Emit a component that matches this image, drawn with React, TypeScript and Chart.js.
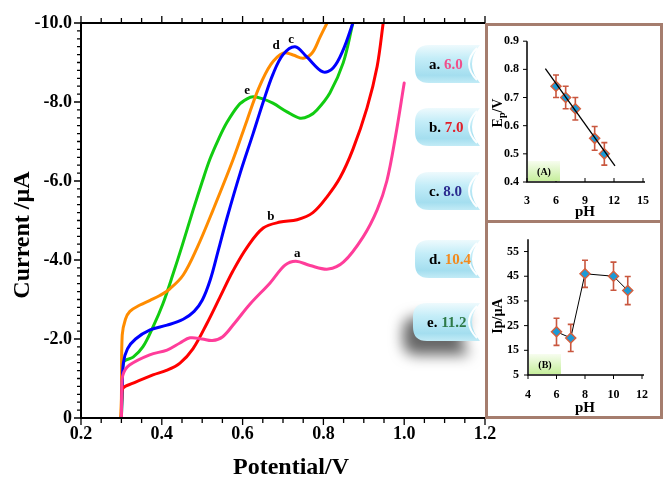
import React, { useEffect, useRef } from 'react';
import { Chart, registerables } from 'chart.js';
Chart.register(...registerables);
Chart.defaults.color = '#000';

const FONT = '"Liberation Serif", "Times New Roman", serif';

// ---------- main cyclic voltammetry curves ----------
const curveNames = ['a', 'b', 'c', 'd', 'e'];
const phLabels = ['6.0', '7.0', '8.0', '10.4', '11.2'];
const curveColors = ['#FF3D9A', '#FF0000', '#0000FF', '#FF8C00', '#11CC11'];
const phTextColors = ['#F0508C', '#E0202A', '#2B2B8F', '#F28A1E', '#2E7A48'];

const potA = [0.300, 0.301, 0.304, 0.320, 0.370, 0.413, 0.445, 0.470, 0.500, 0.525, 0.550, 0.580, 0.618, 0.668, 0.705, 0.732, 0.767, 0.812, 0.850, 0.898, 0.933, 0.957, 0.978, 1.000];
const curA = [0, -0.7, -1.1, -1.34, -1.6, -1.72, -1.9, -2.03, -2.0, -1.96, -2.05, -2.4, -2.88, -3.42, -3.87, -3.97, -3.86, -3.77, -3.95, -4.58, -5.27, -6.0, -7.1, -8.48];

const potB = [0.300, 0.301, 0.304, 0.329, 0.378, 0.413, 0.445, 0.477, 0.512, 0.544, 0.576, 0.611, 0.651, 0.693, 0.735, 0.774, 0.809, 0.841, 0.873, 0.908, 0.933, 0.948];
const curB = [0, -0.5, -0.76, -0.88, -1.09, -1.21, -1.39, -1.75, -2.4, -3.06, -3.72, -4.32, -4.81, -4.96, -5.02, -5.2, -5.6, -6.08, -6.8, -7.85, -8.9, -10.0];

const potC = [0.300, 0.302, 0.305, 0.315, 0.335, 0.371, 0.413, 0.453, 0.480, 0.500, 0.520, 0.540, 0.561, 0.594, 0.626, 0.651, 0.675, 0.700, 0.730, 0.759, 0.799, 0.824, 0.849, 0.873];
const curC = [0, -0.8, -1.4, -1.75, -2.0, -2.23, -2.35, -2.5, -2.7, -2.98, -3.5, -4.25, -5.05, -6.2, -7.2, -8.0, -8.7, -9.2, -9.4, -9.14, -8.76, -8.86, -9.32, -10.0];

const potD = [0.298, 0.300, 0.302, 0.310, 0.321, 0.346, 0.371, 0.395, 0.420, 0.453, 0.487, 0.527, 0.576, 0.611, 0.640, 0.670, 0.700, 0.725, 0.750, 0.772, 0.792, 0.809];
const curD = [0, -0.5, -2.1, -2.5, -2.7, -2.86, -2.98, -3.1, -3.27, -3.62, -4.3, -5.27, -6.53, -7.54, -8.35, -8.95, -9.24, -9.19, -9.11, -9.24, -9.65, -10.0];

const potE = [0.300, 0.302, 0.306, 0.329, 0.353, 0.378, 0.403, 0.428, 0.450, 0.477, 0.500, 0.519, 0.540, 0.561, 0.590, 0.611, 0.626, 0.650, 0.675, 0.710, 0.742, 0.765, 0.784, 0.816, 0.849, 0.873];
const curE = [0, -0.6, -1.42, -1.54, -1.8, -2.3, -2.9, -3.65, -4.35, -5.25, -5.98, -6.55, -7.05, -7.48, -7.92, -8.08, -8.13, -8.08, -7.97, -7.75, -7.59, -7.65, -7.8, -8.23, -8.99, -10.0];

const potentials = [potA, potB, potC, potD, potE];
const currents = [curA, curB, curC, curD, curE];

const peakLabelX = [0.735, 0.67, 0.72, 0.683, 0.611];
const peakLabelY = [-4.15, -5.09, -9.57, -9.42, -8.3];

const xTicksMain = [0.2, 0.4, 0.6, 0.8, 1.0, 1.2];
const yTicksMain = [-10, -8, -6, -4, -2, 0];

// ---------- inset A: Ep vs pH ----------
const phA = [6, 7, 8, 10, 11];
const epA = [0.74, 0.70, 0.66, 0.555, 0.50];
const epErr = [0.04, 0.04, 0.04, 0.042, 0.04];
const fitX = [4.9, 12.1];
const fitY = [0.803, 0.457];
const xTicksA = [3, 6, 9, 12, 15];
const yTicksA = [0.4, 0.5, 0.6, 0.7, 0.8, 0.9];

// ---------- inset B: Ip vs pH ----------
const phB = [6, 7, 8, 10, 11];
const ipB = [22.5, 20, 46, 45, 39.2];
const ipErr = [5.5, 5.5, 5.5, 5.7, 5.7];
const xTicksB = [4, 6, 8, 10, 12];
const yTicksB = [5, 15, 25, 35, 45, 55];

function badgePath(ctx: CanvasRenderingContext2D, x: number, y: number, w: number, h: number) {
  const r = 14;
  ctx.beginPath();
  ctx.moveTo(x + r, y);
  ctx.lineTo(x + w, y);
  ctx.quadraticCurveTo(x + w - 16, y + h / 2, x + w, y + h);
  ctx.lineTo(x + r, y + h);
  ctx.quadraticCurveTo(x, y + h, x, y + h - r);
  ctx.lineTo(x, y + r);
  ctx.quadraticCurveTo(x, y, x + r, y);
  ctx.closePath();
}

const mainDecor = {
  id: 'mainDecor',
  afterDraw(chart: any) {
    const ctx: CanvasRenderingContext2D = chart.ctx;
    const xs = chart.scales.x;
    const ys = chart.scales.y;
    const { left, right, top, bottom } = chart.chartArea;
    ctx.save();
    ctx.strokeStyle = '#000';
    ctx.lineWidth = 2;
    ctx.beginPath();
    ctx.moveTo(right, top);
    ctx.lineTo(left, top);
    ctx.lineTo(left, bottom);
    ctx.lineTo(right, bottom);
    ctx.stroke();
    ctx.lineWidth = 1.3;
    ctx.beginPath();
    for (let i = 0; i <= 50; i++) {
      const py = ys.getPixelForValue(-i * 0.2);
      const len = i % 10 === 0 ? 7 : 4;
      ctx.moveTo(left, py);
      ctx.lineTo(left - len, py);
    }
    for (let i = 0; i <= 20; i++) {
      const px = xs.getPixelForValue(0.2 + i * 0.05);
      const len = i % 4 === 0 ? 7 : 5;
      ctx.moveTo(px, bottom);
      ctx.lineTo(px, bottom + len);
      ctx.moveTo(px, top);
      ctx.lineTo(px, top - len);
    }
    ctx.stroke();

    // curve labels
    ctx.fillStyle = '#000';
    ctx.font = `bold 13px ${FONT}`;
    ctx.textAlign = 'center';
    ctx.textBaseline = 'middle';
    curveNames.forEach((n, i) => {
      ctx.fillText(n, xs.getPixelForValue(peakLabelX[i]), ys.getPixelForValue(peakLabelY[i]));
    });

    // axis titles
    ctx.font = `bold 24px ${FONT}`;
    ctx.fillText('Potential/V', 291, 468);
    ctx.save();
    ctx.translate(23, 235);
    ctx.rotate(-Math.PI / 2);
    ctx.fillText('Current /\u00b5A', 0, 0);
    ctx.restore();

    // pH badges
    const tops = [45, 108, 172, 240, 303];
    curveNames.forEach((n, i) => {
      const x = i === 4 ? 413 : 415;
      const y = tops[i];
      const w = i === 4 ? 67 : 65;
      const h = 38;
      ctx.save();
      if (i === 4) {
        ctx.shadowColor = 'rgba(0,0,0,0.6)';
        ctx.shadowBlur = 14;
        ctx.shadowOffsetX = -10;
        ctx.shadowOffsetY = 14;
      }
      const g = ctx.createLinearGradient(0, y, 0, y + h);
      g.addColorStop(0, '#EEFAFD');
      g.addColorStop(0.35, '#C4EDF8');
      g.addColorStop(0.8, '#A4DEEF');
      g.addColorStop(1, '#C2EBF6');
      badgePath(ctx, x, y, w, h);
      ctx.fillStyle = g;
      ctx.fill();
      ctx.restore();
      ctx.save();
      ctx.strokeStyle = 'rgba(255,255,255,0.95)';
      ctx.lineWidth = 2;
      ctx.beginPath();
      ctx.moveTo(x + w - 3, y + 3);
      ctx.quadraticCurveTo(x + w - 19, y + h / 2, x + w - 3, y + h - 3);
      ctx.stroke();
      ctx.font = `bold 15px ${FONT}`;
      ctx.textAlign = 'left';
      ctx.textBaseline = 'middle';
      const pre = n + '. ';
      const tx = x + 14;
      ctx.fillStyle = '#000';
      ctx.fillText(pre, tx, y + h / 2 + 1);
      const pw = ctx.measureText(pre).width;
      ctx.fillStyle = phTextColors[i];
      ctx.fillText(phLabels[i], tx + pw, y + h / 2 + 1);
      ctx.restore();
    });
    ctx.restore();
  },
};

function makeInsetDecor(o: any) {
  return {
    id: 'insetDecor',
    beforeDatasetsDraw(chart: any) {
      const ctx: CanvasRenderingContext2D = chart.ctx;
      const xs = chart.scales.x;
      const ys = chart.scales.y;
      ctx.save();
      ctx.strokeStyle = '#C9573F';
      ctx.lineWidth = 1.6;
      o.px.forEach((xv: number, i: number) => {
        const px = xs.getPixelForValue(xv);
        const y1 = ys.getPixelForValue(o.py[i] - o.err[i]);
        const y2 = ys.getPixelForValue(o.py[i] + o.err[i]);
        ctx.beginPath();
        ctx.moveTo(px, y1);
        ctx.lineTo(px, y2);
        ctx.moveTo(px - 3, y1);
        ctx.lineTo(px + 3, y1);
        ctx.moveTo(px - 3, y2);
        ctx.lineTo(px + 3, y2);
        ctx.stroke();
      });
      ctx.restore();
    },
    afterDraw(chart: any) {
      const ctx: CanvasRenderingContext2D = chart.ctx;
      const xs = chart.scales.x;
      const ys = chart.scales.y;
      const { left, right, top, bottom } = chart.chartArea;
      ctx.save();
      ctx.strokeStyle = '#000';
      ctx.lineWidth = 1.5;
      ctx.beginPath();
      ctx.moveTo(left, top);
      ctx.lineTo(left, bottom);
      ctx.lineTo(right + 2, bottom);
      ctx.stroke();
      ctx.lineWidth = 1;
      ctx.beginPath();
      o.yTicks.forEach((v: number) => {
        const py = ys.getPixelForValue(v);
        ctx.moveTo(left, py);
        ctx.lineTo(left - 4, py);
      });
      o.xTicks.forEach((v: number) => {
        const px = xs.getPixelForValue(v);
        ctx.moveTo(px, bottom);
        ctx.lineTo(px, bottom + o.xTickDir * 4);
      });
      ctx.stroke();

      // label box
      const bx = left + 1;
      const bh = 20;
      const by = bottom - bh - 1;
      const bw = 32;
      const g = ctx.createLinearGradient(0, by, 0, by + bh);
      g.addColorStop(0, '#F7FDEF');
      g.addColorStop(1, '#C6EE9C');
      ctx.fillStyle = g;
      ctx.fillRect(bx, by, bw, bh);
      ctx.fillStyle = '#000';
      ctx.font = `bold 10px ${FONT}`;
      ctx.textAlign = 'center';
      ctx.textBaseline = 'middle';
      ctx.fillText(o.tag, bx + bw / 2, by + bh / 2 + 1);

      // x title
      ctx.font = `bold 15px ${FONT}`;
      ctx.fillText('pH', (left + right) / 2, bottom + o.pHOffset);

      // y title
      ctx.save();
      ctx.translate(o.yTitleX, o.yTitleY);
      ctx.rotate(-Math.PI / 2);
      ctx.textAlign = 'left';
      const big = `bold 14px ${FONT}`;
      const small = `bold 10px ${FONT}`;
      let total = 0;
      o.yTitle.forEach((p: any) => {
        ctx.font = p.sub ? small : big;
        total += ctx.measureText(p.t).width;
      });
      let cx = -total / 2;
      o.yTitle.forEach((p: any) => {
        ctx.font = p.sub ? small : big;
        ctx.fillText(p.t, cx, p.sub ? 4 : 0);
        cx += ctx.measureText(p.t).width;
      });
      ctx.restore();
      ctx.restore();
    },
  };
}

function tickFont(size: number) {
  return { family: FONT, size, weight: 'bold' as const };
}

export default function App() {
  const mainRef = useRef<HTMLCanvasElement>(null);
  const aRef = useRef<HTMLCanvasElement>(null);
  const bRef = useRef<HTMLCanvasElement>(null);

  useEffect(() => {
    const charts: Chart[] = [];

    charts.push(
      new Chart(mainRef.current!, {
        type: 'line',
        data: {
          datasets: curveNames.map((n, i) => ({
            label: n,
            data: potentials[i].map((x, k) => ({ x, y: currents[i][k] })),
            borderColor: curveColors[i],
            borderWidth: 3,
            pointRadius: 0,
            fill: false,
            tension: 0.35,
            borderJoinStyle: 'round' as const,
            borderCapStyle: 'round' as const,
          })),
        },
        options: {
          responsive: false,
          animation: false,
          layout: { padding: { left: 0, top: 23, right: 179, bottom: 0 } },
          plugins: { legend: { display: false }, tooltip: { enabled: false } },
          scales: {
            x: {
              type: 'linear',
              min: 0.2,
              max: 1.2,
              grid: { display: false, drawTicks: false },
              border: { display: false },
              afterBuildTicks: (s: any) => {
                s.ticks = xTicksMain.map((v) => ({ value: v }));
              },
              afterFit: (s: any) => {
                s.height = 65;
              },
              ticks: {
                padding: 6,
                font: tickFont(18),
                color: '#000',
                maxRotation: 0,
                autoSkip: false,
                callback: (v: any) => Number(v).toFixed(1),
              },
            },
            y: {
              type: 'linear',
              min: -10,
              max: 0,
              reverse: true,
              grid: { display: false, drawTicks: false },
              border: { display: false },
              afterBuildTicks: (s: any) => {
                s.ticks = yTicksMain.map((v) => ({ value: v }));
              },
              afterFit: (s: any) => {
                s.width = 81;
              },
              ticks: {
                padding: 9,
                font: tickFont(18),
                color: '#000',
                autoSkip: false,
                callback: (v: any) => (Number(v) === 0 ? '0' : Number(v).toFixed(1)),
              },
            },
          },
        },
        plugins: [mainDecor],
      })
    );

    const diamond = {
      pointStyle: 'rectRot' as const,
      pointRadius: 5,
      pointBackgroundColor: '#1C9AD6',
      pointBorderColor: '#D4603F',
      pointBorderWidth: 1.5,
    };

    charts.push(
      new Chart(aRef.current!, {
        type: 'line',
        data: {
          datasets: [
            {
              data: fitX.map((x, k) => ({ x, y: fitY[k] })),
              borderColor: '#000',
              borderWidth: 1.3,
              pointRadius: 0,
            },
            {
              data: phA.map((x, k) => ({ x, y: epA[k] })),
              showLine: false,
              ...diamond,
            },
          ],
        },
        options: {
          responsive: false,
          animation: false,
          layout: { padding: { left: 0, top: 9, right: 8, bottom: 0 } },
          plugins: { legend: { display: false }, tooltip: { enabled: false } },
          scales: {
            x: {
              type: 'linear',
              min: 3,
              max: 15,
              grid: { display: false, drawTicks: false },
              border: { display: false },
              afterBuildTicks: (s: any) => {
                s.ticks = xTicksA.map((v) => ({ value: v }));
              },
              afterFit: (s: any) => {
                s.height = 38;
              },
              ticks: { padding: 12, font: tickFont(12), color: '#000', maxRotation: 0, autoSkip: false },
            },
            y: {
              type: 'linear',
              min: 0.4,
              max: 0.9,
              grid: { display: false, drawTicks: false },
              border: { display: false },
              afterBuildTicks: (s: any) => {
                s.ticks = yTicksA.map((v) => ({ value: v }));
              },
              afterFit: (s: any) => {
                s.width = 39;
              },
              ticks: { padding: 8, font: tickFont(12), color: '#000', autoSkip: false, callback: (v: any) => Number(v).toFixed(1) },
            },
          },
        },
        plugins: [
          makeInsetDecor({
            px: phA,
            py: epA,
            err: epErr,
            xTicks: xTicksA,
            yTicks: yTicksA,
            xTickDir: -1,
            tag: '(A)',
            pHOffset: 30,
            yTitleX: 10,
            yTitleY: 87,
            yTitle: [{ t: 'E' }, { t: 'p', sub: true }, { t: '/V' }],
          }),
        ],
      })
    );

    charts.push(
      new Chart(bRef.current!, {
        type: 'line',
        data: {
          datasets: [
            {
              data: phB.map((x, k) => ({ x, y: ipB[k] })),
              borderColor: '#000',
              borderWidth: 1,
              tension: 0,
              ...diamond,
            },
          ],
        },
        options: {
          responsive: false,
          animation: false,
          layout: { padding: { left: 0, top: 5, right: 10, bottom: 0 } },
          plugins: { legend: { display: false }, tooltip: { enabled: false } },
          scales: {
            x: {
              type: 'linear',
              min: 4,
              max: 12,
              grid: { display: false, drawTicks: false },
              border: { display: false },
              afterBuildTicks: (s: any) => {
                s.ticks = xTicksB.map((v) => ({ value: v }));
              },
              afterFit: (s: any) => {
                s.height = 41;
              },
              ticks: { padding: 13, font: tickFont(12), color: '#000', maxRotation: 0, autoSkip: false },
            },
            y: {
              type: 'linear',
              min: 5,
              max: 60,
              grid: { display: false, drawTicks: false },
              border: { display: false },
              afterBuildTicks: (s: any) => {
                s.ticks = yTicksB.map((v) => ({ value: v }));
              },
              afterFit: (s: any) => {
                s.width = 40;
              },
              ticks: { padding: 9, font: tickFont(12), color: '#000', autoSkip: false },
            },
          },
        },
        plugins: [
          makeInsetDecor({
            px: phB,
            py: ipB,
            err: ipErr,
            xTicks: xTicksB,
            yTicks: yTicksB,
            xTickDir: 1,
            tag: '(B)',
            pHOffset: 33,
            yTitleX: 10,
            yTitleY: 93,
            yTitle: [{ t: 'Ip/\u00b5A' }],
          }),
        ],
      })
    );

    return () => charts.forEach((c) => c.destroy());
  }, []);

  const brown = '#A57D6E';
  return (
    <div style={{ position: 'absolute', left: 0, top: 0, width: 664, height: 483, background: '#fff' }}>
      <canvas ref={mainRef} width={664} height={483} style={{ position: 'absolute', left: 0, top: 0, width: 664, height: 483 }} />
      <div
        style={{
          position: 'absolute',
          left: 485,
          top: 23,
          width: 178,
          height: 396,
          boxSizing: 'border-box',
          border: `3px solid ${brown}`,
          background: '#fff',
        }}
      />
      <div style={{ position: 'absolute', left: 485, top: 220, width: 178, height: 3, background: brown }} />
      <canvas ref={aRef} width={173} height={194} style={{ position: 'absolute', left: 488, top: 26, width: 173, height: 194 }} />
      <canvas ref={bRef} width={173} height={193} style={{ position: 'absolute', left: 488, top: 223, width: 173, height: 193 }} />
    </div>
  );
}
